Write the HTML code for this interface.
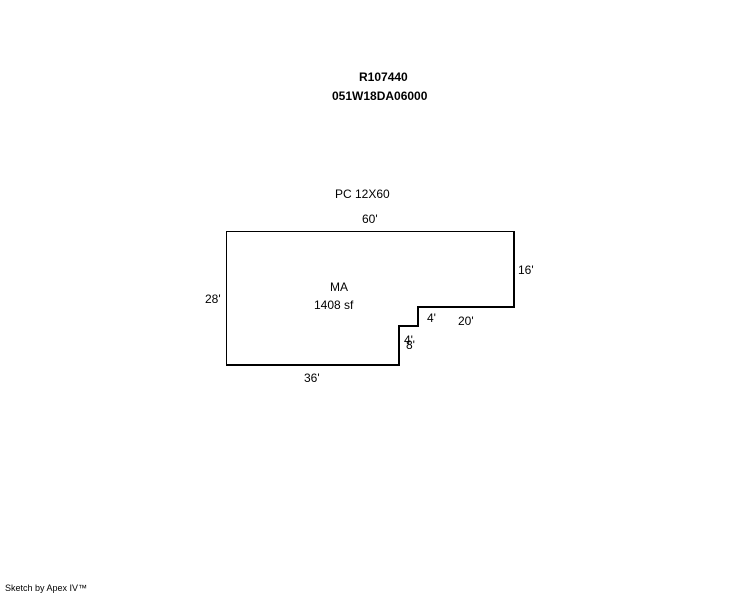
<!DOCTYPE html>
<html><head><style>
body{margin:0;background:#fff;width:744px;height:595px;overflow:hidden;position:relative;font-family:"Liberation Sans",Arial,sans-serif;}
.t{position:absolute;font-size:12px;color:#000;white-space:nowrap;line-height:1;}
.b{font-weight:bold;}
</style></head><body>
<div class="t b" style="left:359px;top:71px;">R107440</div>
<div class="t b" style="left:332px;top:90px;">051W18DA06000</div>
<div class="t" style="left:335px;top:188px;">PC 12X60</div>
<div class="t" style="left:362px;top:213px;">60'</div>
<div class="t" style="left:518px;top:264px;">16'</div>
<div class="t" style="left:205px;top:293px;">28'</div>
<div class="t" style="left:330px;top:281px;">MA</div>
<div class="t" style="left:314px;top:299px;">1408 sf</div>
<div class="t" style="left:427px;top:312px;">4'</div>
<div class="t" style="left:458px;top:315px;">20'</div>
<div class="t" style="left:404px;top:334px;">4'</div>
<div class="t" style="left:406px;top:339px;">8'</div>
<div class="t" style="left:304px;top:372px;">36'</div>
<div class="t" style="left:5px;top:584px;font-size:9px;">Sketch by Apex IV™</div>
<svg width="744" height="595" style="position:absolute;left:0;top:0">
<path d="M226.5 365 V231.5 H514" stroke="#000" stroke-width="1" fill="none"/>
<path d="M514 231 V307 H418 V326 H399 V365 H226" stroke="#000" stroke-width="2" fill="none"/>
</svg>
</body></html>
